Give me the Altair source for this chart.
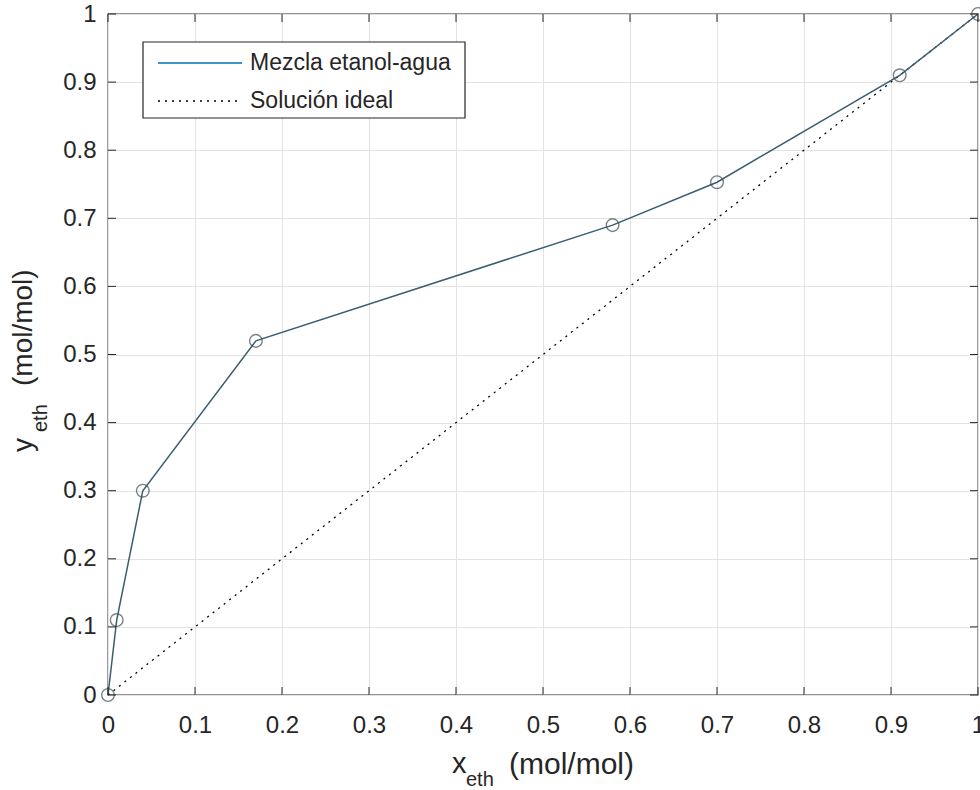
import altair as alt
import pandas as pd

# data
x_eth = [0.0, 0.01, 0.04, 0.17, 0.58, 0.70, 0.91, 1.0]
y_eth = [0.0, 0.11, 0.30, 0.52, 0.69, 0.753, 0.91, 1.0]
ideal_x = [0.0, 1.0]
ideal_y = [0.0, 1.0]
tick_values = [0.0, 0.1, 0.2, 0.3, 0.4, 0.5, 0.6, 0.7, 0.8, 0.9, 1.0]
legend_labels = ["Mezcla etanol-agua", "Solución ideal"]

W, H = 870, 681
FONT = "Liberation Sans"
TXT = "#262626"

mix = pd.DataFrame({"x": x_eth, "y": y_eth})
ideal = pd.DataFrame({"x": ideal_x, "y": ideal_y})
ticks = pd.DataFrame({"v": tick_values})

xs = alt.Scale(domain=[0, 1], nice=False)
ys = alt.Scale(domain=[0, 1], nice=False)
lab = "format(datum.value, '.1~f')"

base_axes = alt.Chart(ticks).mark_point(opacity=0).encode(
    x=alt.X("v:Q", scale=xs, axis=alt.Axis(values=tick_values, labelExpr=lab, title=None,
                                          grid=True, gridColor="#e3e3e3", gridWidth=1,
                                          domain=False, ticks=False, labelPadding=18,
                                          labelFlush=False, labelOverlap=False,
                                          labelFontSize=24, labelFont=FONT, labelColor=TXT)),
    y=alt.Y("v:Q", scale=ys, axis=alt.Axis(values=tick_values, labelExpr=lab, title=None,
                                          grid=True, gridColor="#e3e3e3", gridWidth=1,
                                          domain=False, ticks=False, labelPadding=12,
                                          labelFlush=False, labelOverlap=False,
                                          labelFontSize=24, labelFont=FONT, labelColor=TXT)),
)

tk = alt.Chart(ticks).mark_rule(color=TXT, strokeWidth=1)
tick_bottom = tk.encode(x=alt.X("v:Q", scale=xs), y=alt.value(H), y2=alt.value(H - 8))
tick_top = tk.encode(x=alt.X("v:Q", scale=xs), y=alt.value(0), y2=alt.value(8))
tick_left = tk.encode(y=alt.Y("v:Q", scale=ys), x=alt.value(0), x2=alt.value(8))
tick_right = tk.encode(y=alt.Y("v:Q", scale=ys), x=alt.value(W), x2=alt.value(W - 8))

ideal_line = alt.Chart(ideal).mark_line(color="black", strokeWidth=1.3, strokeDash=[2, 5]).encode(
    x=alt.X("x:Q", scale=xs), y=alt.Y("y:Q", scale=ys))

mix_line = alt.Chart(mix).mark_line(color="#3a5d70", strokeWidth=1.5).encode(
    x=alt.X("x:Q", scale=xs), y=alt.Y("y:Q", scale=ys))
mix_pts = alt.Chart(mix).mark_point(shape="circle", size=160, filled=False,
                                    color="#3f4f59", strokeWidth=1.4).encode(
    x=alt.X("x:Q", scale=xs), y=alt.Y("y:Q", scale=ys))

# legend box
leg_df = pd.DataFrame({"label": legend_labels})
leg_box = alt.Chart(leg_df.head(1)).mark_rect(fill="white", stroke=TXT, strokeWidth=1.2).encode(
    x=alt.value(35), x2=alt.value(357), y=alt.value(28), y2=alt.value(104))
leg_l1 = alt.Chart(leg_df.head(1)).mark_rule(color="#0072BD", strokeWidth=1.6).encode(
    x=alt.value(50), x2=alt.value(134), y=alt.value(49))
leg_l2 = alt.Chart(leg_df.head(1)).mark_rule(color="black", strokeWidth=1.3, strokeDash=[2, 5]).encode(
    x=alt.value(50), x2=alt.value(134), y=alt.value(87))
leg_t1 = alt.Chart(leg_df.head(1)).mark_text(align="left", baseline="middle", font=FONT,
                                             fontSize=23, color=TXT).encode(
    text="label:N", x=alt.value(142), y=alt.value(49))
leg_t2 = alt.Chart(leg_df.tail(1)).mark_text(align="left", baseline="middle", font=FONT,
                                             fontSize=23, color=TXT).encode(
    text="label:N", x=alt.value(142), y=alt.value(87))

# axis titles with subscripts
tdf = pd.DataFrame({"a": [0]})
def txt(s, x, y, size, angle=0, align="left"):
    return alt.Chart(tdf).mark_text(text=s, font=FONT, fontSize=size, color=TXT,
                                    align=align, baseline="middle", angle=angle).encode(
        x=alt.value(x), y=alt.value(y))

xt1 = txt("x", 344, 750, 29)
xt2 = txt("eth", 358, 766, 20)
xt3 = txt("(mol/mol)", 401, 751, 30)
yt1 = txt("y", -84, 431, 28, angle=270, align="center")
yt2 = txt("eth", -67, 418, 20, angle=270)
yt3 = txt("(mol/mol)", -84, 372, 28, angle=270)

chart = alt.layer(
    base_axes, ideal_line, mix_line, mix_pts,
    tick_bottom, tick_top, tick_left, tick_right,
    leg_box, leg_l1, leg_l2, leg_t1, leg_t2,
    xt1, xt2, xt3, yt1, yt2, yt3,
).properties(
    width=W, height=H,
    autosize=alt.AutoSizeParams(type="none"),
    padding={"left": 108, "top": 14, "right": 2, "bottom": 95},
    background="white",
).configure_view(stroke=TXT, strokeWidth=1.3)

chart.save("out.html", embed_options={"renderer": "svg", "actions": False})
